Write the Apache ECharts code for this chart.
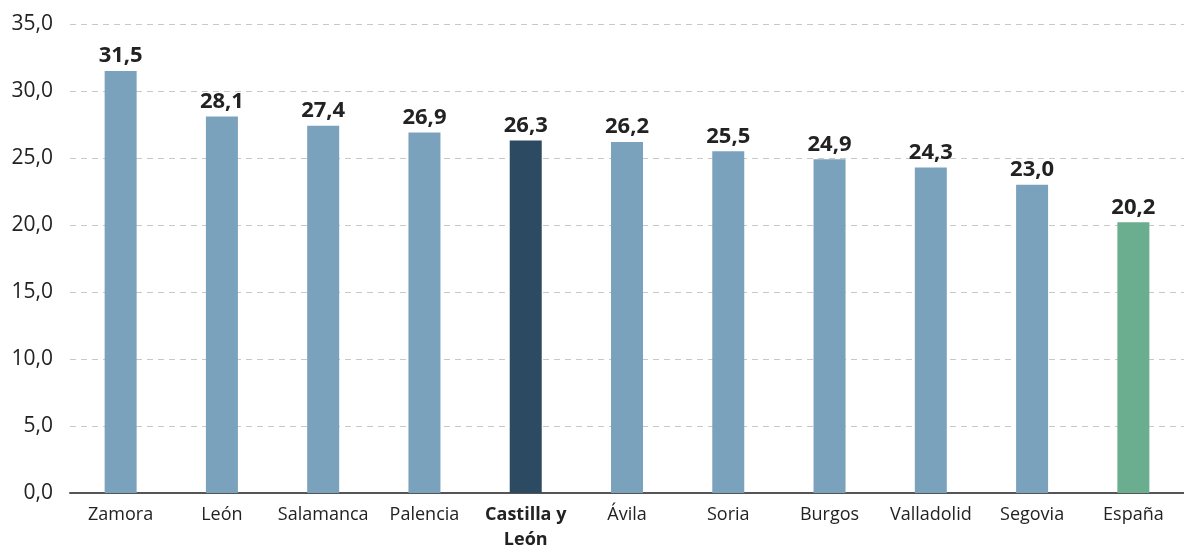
<!DOCTYPE html>
<html><head><meta charset="utf-8">
<script src="https://cdn.jsdelivr.net/npm/echarts@6/dist/echarts.min.js"></script>
<style>html,body{margin:0;padding:0;background:#fff}#c{width:1184px;height:552px}</style>
</head><body><div id="c"></div>
<script>
const categories = ["Zamora","León","Salamanca","Palencia","Castilla y\nLeón","Ávila","Soria","Burgos","Valladolid","Segovia","España"];
const values = [31.5,28.1,27.4,26.9,26.3,26.2,25.5,24.9,24.3,23.0,20.2];
const barColors = ["#7ba2bd","#7ba2bd","#7ba2bd","#7ba2bd","#2c4b62","#7ba2bd","#7ba2bd","#7ba2bd","#7ba2bd","#7ba2bd","#6aad8f"];
const fmt = v => v.toFixed(1).replace('.', ',');
const chart = echarts.init(document.getElementById('c'));
chart.setOption({
  animation:false,
  grid:{left:70,right:0,top:24,bottom:55,containLabel:false},
  xAxis:{type:'category',data:categories,
    axisLine:{lineStyle:{color:'#555',width:2}},axisTick:{show:false},
    axisLabel:{interval:0,color:'#222',fontSize:18,fontFamily:'Open Sans',margin:9,lineHeight:25,
      formatter:(v)=> v.indexOf('Castilla')===0 ? '{b|'+v+'}' : v,
      rich:{b:{fontWeight:'bold',fontSize:18,fontFamily:'Open Sans',color:'#222',lineHeight:25}}}},
  yAxis:{type:'value',min:0,max:35,interval:5,
    axisLabel:{color:'#222',fontSize:21,fontFamily:'Open Sans',margin:17,formatter:fmt},
    splitLine:{lineStyle:{color:'#c8c8c8',type:[6,5],width:1}},
    axisLine:{show:false},axisTick:{show:false}},
  series:[{type:'bar',barWidth:32,
    data:values.map((v,i)=>({value:v,itemStyle:{color:barColors[i]}})),
    label:{show:true,position:'top',distance:4,color:'#222',fontWeight:'bold',fontSize:22,fontFamily:'Open Sans',formatter:p=>fmt(p.value)}}]
});
</script></body></html>
